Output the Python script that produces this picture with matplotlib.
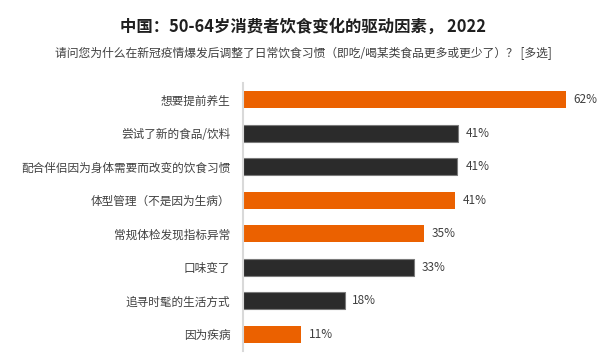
import matplotlib
matplotlib.use("Agg")
from matplotlib import pyplot as plt

plt.rcParams['font.family'] = ['Noto Sans CJK SC', 'DejaVu Sans']

# data
labels = ['想要提前养生', '尝试了新的食品/饮料', '配合伴侣因为身体需要而改变的饮食习惯',
          '体型管理（不是因为生病）', '常规体检发现指标异常', '口味变了',
          '追寻时髦的生活方式', '因为疾病']
values = [62, 41.3, 41.2, 40.8, 34.7, 32.8, 19.5, 11.1]
value_text = ['62%', '41%', '41%', '41%', '35%', '33%', '18%', '11%']
highlight = [True, False, False, True, True, False, False, True]

orange = '#EB6100'
dark = '#2B2B2B'

fig = plt.figure(figsize=(6.07, 3.62), dpi=100)
ax = fig.add_axes([243 / 607, 1 - 351 / 362, 354 / 607, 268 / 362])

ypos = list(range(len(labels)))
for y, v, hl in zip(ypos, values, highlight):
    if hl:
        ax.barh(y, v, height=0.5, color=orange, edgecolor='none')
    else:
        ax.barh(y, v, height=0.5, color=dark, edgecolor='#7a7a7a', linewidth=0.8)

for y, v, t in zip(ypos, values, value_text):
    ax.text(v + 1.5, y, t, va='center', ha='left', fontsize=8.5, color='#404040')

ax.set_xlim(0, 68)
ax.set_ylim(len(labels) - 0.5, -0.5)
ax.set_yticks(ypos)
ax.set_yticklabels(labels, fontsize=8.4, color='#404040')
ax.tick_params(axis='y', length=0, pad=9)
ax.set_xticks([])
for s in ['top', 'right', 'bottom']:
    ax.spines[s].set_visible(False)
ax.spines['left'].set_color('#d9d9d9')
ax.spines['left'].set_linewidth(1.5)

fig.text(0.5, 1 - 27 / 362, '中国：50-64岁消费者饮食变化的驱动因素， 2022',
         ha='center', va='center', fontsize=11.8, fontweight='bold', color='#1f1f1f')
fig.text(0.5, 1 - 53 / 362, '请问您为什么在新冠疫情爆发后调整了日常饮食习惯（即吃/喝某类食品更多或更少了）？ [多选]',
         ha='center', va='center', fontsize=8.5, color='#404040')

fig.savefig('out.png', dpi=100, facecolor='white')
